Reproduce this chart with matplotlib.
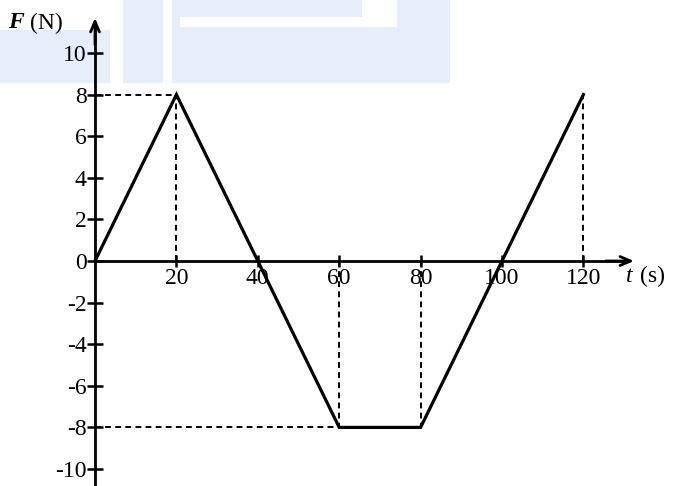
import matplotlib
matplotlib.use("Agg")
import matplotlib.pyplot as plt
from matplotlib.patches import Rectangle

# ---- data ----
t_vals = [0, 20, 40, 60, 80, 100, 120]
F_vals = [0, 8, 0, -8, -8, 0, 8]
x_ticks = [20, 40, 60, 80, 100, 120]
x_tick_labels = ["20", "40", "60", "80", "100", "120"]
y_ticks = [-10, -8, -6, -4, -2, 0, 2, 4, 6, 8, 10]
y_tick_labels = ["-10", "-8", "-6", "-4", "-2", "0", "2", "4", "6", "8", "10"]

plt.rcParams['font.family'] = ['Liberation Serif', 'DejaVu Serif']

W, H = 688, 486
fig = plt.figure(figsize=(W / 100, H / 100), dpi=100)

# light background patches (pixel coords: x, y_top, w, h)
wm_color = "#e7eefa"
for (px, py, pw, ph) in [(0, 30, 110, 53), (123, 0, 40, 83), (172, 27, 278, 56),
                         (180, 0, 182, 17), (397, 0, 53, 27), (172, 0, 8, 27)]:
    fig.patches.append(Rectangle((px / W, 1 - (py + ph) / H), pw / W, ph / H,
                                 transform=fig.transFigure, color=wm_color, lw=0, zorder=-5))

ax = fig.add_axes([0, 0, 1, 1])
ax.set_zorder(2)
ax.patch.set_alpha(0)

X0, SX = 95, 4.07
Y0, SY = 261, 20.8
ax.set_xlim(-X0 / SX, (W - X0) / SX)
ax.set_ylim(-(H - Y0) / SY, Y0 / SY)

lw_axis = 2.0
for s in ["top", "right"]:
    ax.spines[s].set_visible(False)
ax.spines["left"].set_position(("data", 0))
ax.spines["bottom"].set_position(("data", 0))
ax.spines["left"].set_linewidth(lw_axis)
ax.spines["bottom"].set_linewidth(lw_axis)
ytop = (Y0 - 24) / SY
xend = (626 - X0) / SX
ax.spines["left"].set_bounds(-(H - Y0) / SY, ytop)
ax.spines["bottom"].set_bounds(0, xend)

# arrows
ap = dict(arrowstyle="->,head_length=0.75,head_width=0.32", lw=lw_axis, color="black",
          shrinkA=0, shrinkB=0)
ax.annotate("", xy=(0, (Y0 - 18) / SY), xytext=(0, ytop - 1), arrowprops=ap, annotation_clip=False)
ax.annotate("", xy=((634 - X0) / SX, 0), xytext=(xend - 5, 0), arrowprops=ap, annotation_clip=False)

ax.set_xticks(x_ticks)
ax.set_xticklabels(x_tick_labels)
ax.set_yticks(y_ticks)
ax.set_yticklabels(y_tick_labels)
ax.tick_params(axis="x", direction="inout", length=8, width=1.8, labelsize=17, pad=1)
ax.tick_params(axis="y", direction="inout", length=12, width=1.8, labelsize=17, pad=0)

# dashed guide lines
dash = dict(color="black", lw=1.4, ls=(0, (3, 2.2)))
ax.plot([0, t_vals[1]], [F_vals[1], F_vals[1]], **dash)
ax.plot([t_vals[1], t_vals[1]], [0, F_vals[1]], **dash)
ax.plot([t_vals[3], t_vals[3]], [0, F_vals[3]], **dash)
ax.plot([t_vals[4], t_vals[4]], [0, F_vals[4]], **dash)
ax.plot([0, t_vals[3]], [F_vals[3], F_vals[3]], **dash)
ax.plot([t_vals[6], t_vals[6]], [0, F_vals[6]], **dash)

# main curve
ax.plot(t_vals, F_vals, color="black", lw=2.3, solid_joinstyle="miter", clip_on=False)

# axis labels
fig.text(8 / W, 1 - 23 / H, "F", fontsize=17, fontstyle="italic", fontweight="bold", va="center", ha="left")
fig.text(30 / W, 1 - 23 / H, "(N)", fontsize=17, va="center", ha="left")
fig.text(626 / W, 1 - 276 / H, "t", fontsize=17, fontstyle="italic", va="center", ha="left")
fig.text(640 / W, 1 - 276 / H, "(s)", fontsize=17, va="center", ha="left")

fig.savefig("out.png", dpi=100, facecolor="white")
